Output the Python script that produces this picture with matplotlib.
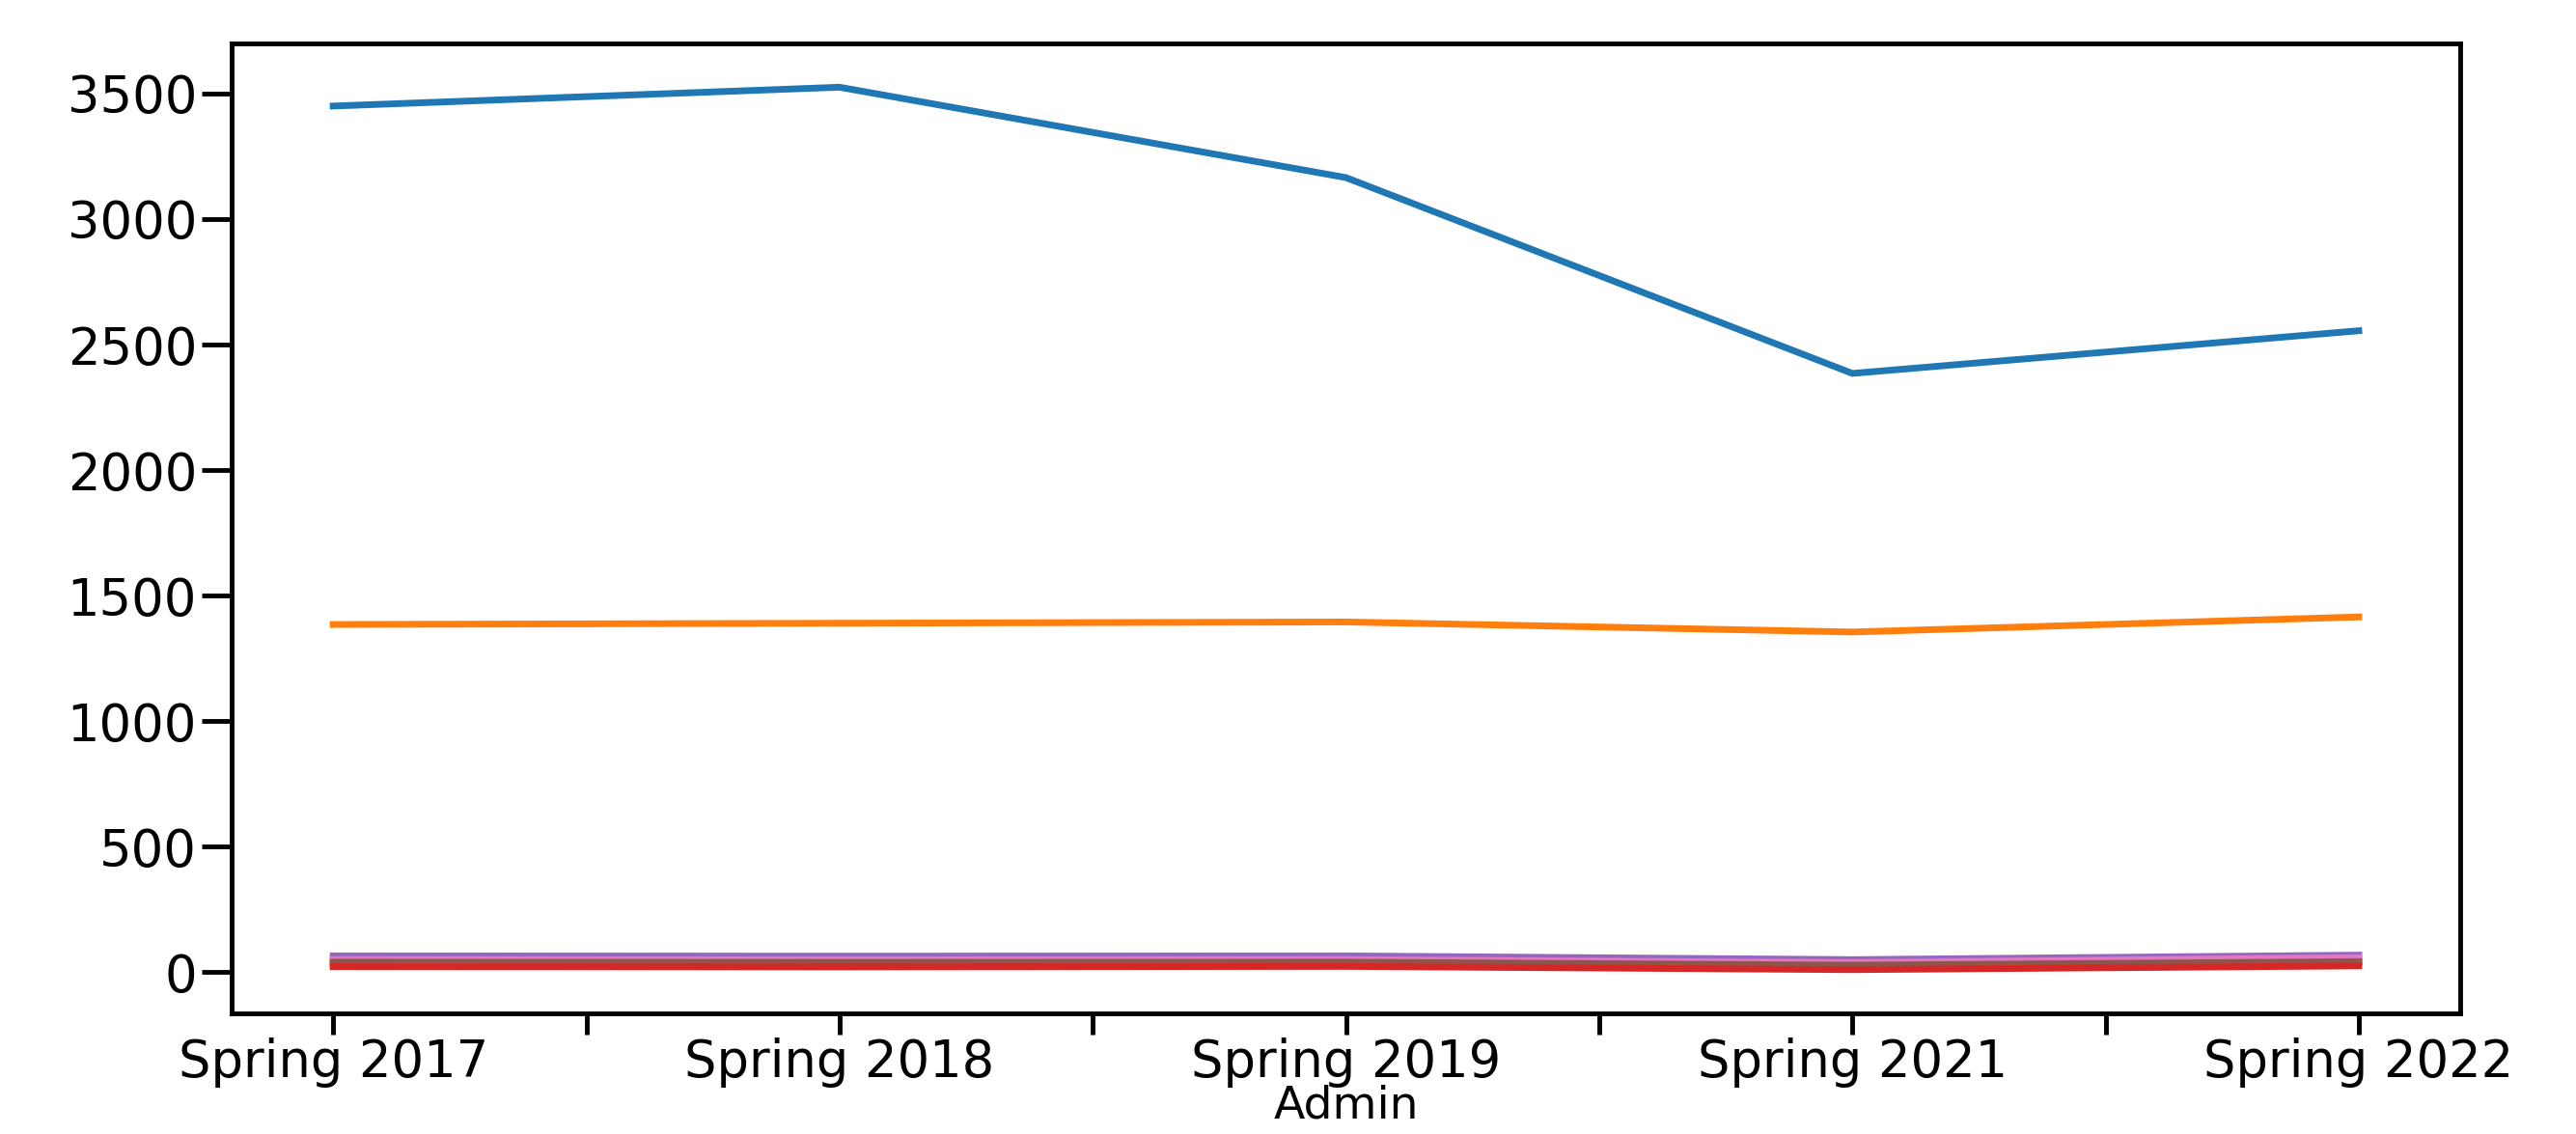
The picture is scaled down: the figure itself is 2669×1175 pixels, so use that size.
import numpy as np
import matplotlib
matplotlib.use("Agg")
import matplotlib.pyplot as plt

# data
admins = ["Spring 2017", "Spring 2018", "Spring 2019", "Spring 2021", "Spring 2022"]
series_blue = [3450, 3525, 3165, 2385, 2555]
series_orange = [1385, 1390, 1395, 1355, 1415]
series_green = [35, 34, 35, 22, 38]
series_red = [22, 21, 23, 10, 25]
series_purple = [65, 64, 65, 50, 68]
series_brown = [40, 39, 40, 28, 42]
series_pink = [50, 49, 50, 38, 58]

colors = ["#1f77b4", "#ff7f0e", "#2ca02c", "#d62728", "#9467bd", "#8c564b", "#e377c2"]
all_series = [series_blue, series_orange, series_green, series_purple,
              series_pink, series_brown, series_red]
color_order = [colors[0], colors[1], colors[2], colors[4], colors[6], colors[5], colors[3]]

fig = plt.figure(figsize=(26.69, 11.75), dpi=100)
ax = fig.add_axes([0.090, 0.106, 0.865, 0.856])

x = np.arange(len(admins))
for vals, c in zip(all_series, color_order):
    ax.plot(x, vals, color=c, lw=5)

# ticks every half step, labels only on the admins
ticks = np.arange(0, len(admins) - 0.5, 0.5)
ax.set_xticks(ticks)
ax.set_xticklabels([admins[int(t)] if t == int(t) else "" for t in ticks])
ax.set_yticks(np.arange(0, 3501, 500))
ax.set_xlim(-0.2, 4.2)

ax.tick_params(labelsize=38, width=3.5, pad=4)
ax.tick_params(axis="x", length=16, pad=2)
ax.tick_params(axis="y", length=22)
for sp in ax.spines.values():
    sp.set_linewidth(3.5)
ax.set_xlabel("Admin", fontsize=34, labelpad=-3)

fig.savefig("out.png", dpi=100)
